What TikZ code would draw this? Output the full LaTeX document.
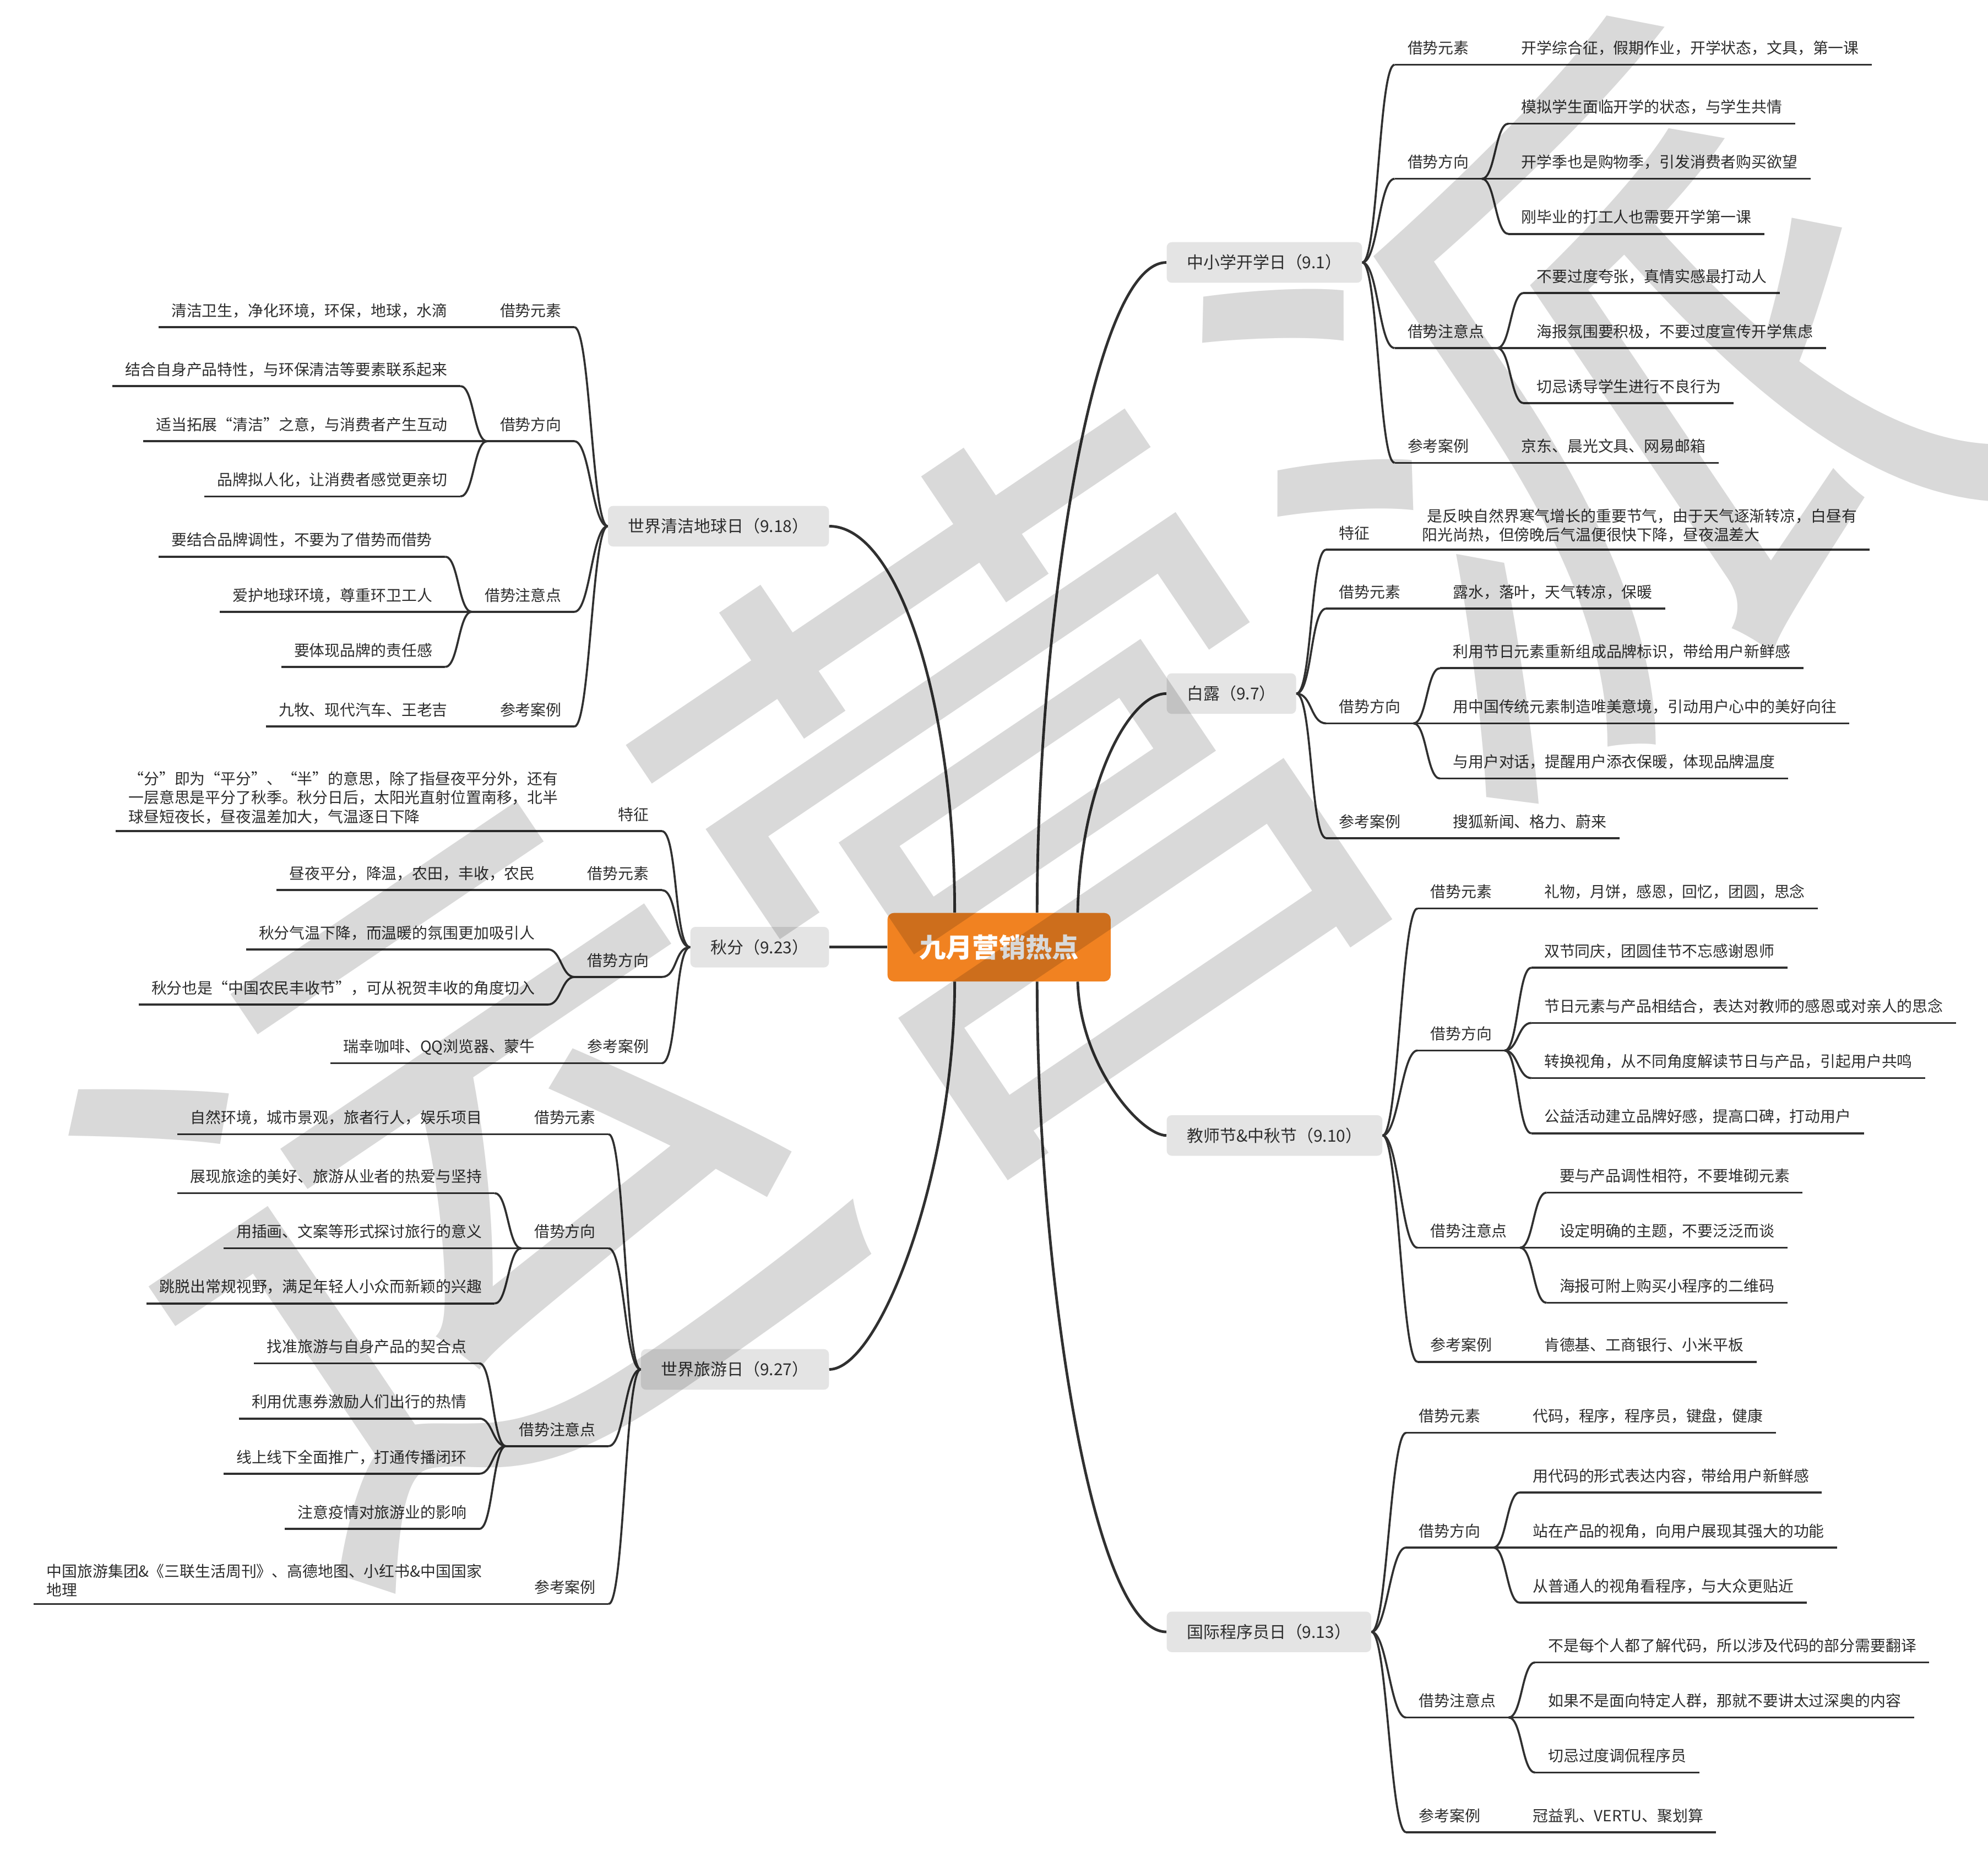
\documentclass[tikz,border=0pt]{standalone}
\usepackage{fontspec}
\setmainfont{Noto Sans CJK SC}
\definecolor{rootc}{RGB}{241,130,33}
\definecolor{topicc}{RGB}{228,228,228}
\definecolor{linec}{RGB}{48,48,48}
\definecolor{txtc}{RGB}{45,45,45}
\newcommand{\leaffont}{\fontsize{12.1pt}{15pt}\selectfont}

\begin{document}
\begin{tikzpicture}[x=1pt, y=-1pt,
    root/.style={rectangle, rounded corners=5pt, fill=rootc, text=white, minimum width=176pt,
                 minimum height=54pt, font=\fontsize{21pt}{24pt}\selectfont\bfseries},
    topic/.style={rectangle, rounded corners=4pt, fill=topicc, text=txtc, minimum height=32pt,
                  inner xsep=16pt, font=\fontsize{13pt}{15pt}\selectfont},
    uline/.style={draw=linec, line width=1.6pt},
    itembase/.style={text=txtc, inner xsep=10pt, inner ysep=6.9pt, font=\leaffont,
                     append after command={(\tikzlastnode.south west) edge[uline] (\tikzlastnode.south east)}},
    itemR/.style={itembase, text depth=0.15em, anchor=south west},
    itemL/.style={itembase, text depth=0.15em, anchor=south east},
    multiR/.style={itembase, inner ysep=5.5pt, align=left, anchor=south west},
    multiL/.style={itembase, inner ysep=5.5pt, align=left, anchor=south east},
    branch/.style={draw=linec, line width=2.1pt},
    twig/.style={draw=linec, line width=1.6pt},
    rlink/.style={to path={.. controls +(#1,0) and +(-#1,0) .. (\tikztotarget)}},
    rlink/.default=12.5,
    llink/.style={to path={.. controls +(-#1,0) and +(#1,0) .. (\tikztotarget)}},
    llink/.default=12.5,
    wmark/.style={rotate=34, inner sep=0pt, text=black, text opacity=0.15,
                  font=\fontsize{540pt}{540pt}\selectfont}
]
\useasboundingbox (0,0) rectangle (1568,1472.4);
\fill[white] (0,0) rectangle (1568,1472.4);

%% Topics, placed at explicit coordinates %%
\node[topic, anchor=west] (t1) at (920,207)  {中小学开学日（9.1）};
\node[topic, anchor=west] (t2) at (920,547)  {白露（9.7）};
\node[topic, anchor=west] (t3) at (920,895.5) {教师节\&中秋节（9.10）};
\node[topic, anchor=west] (t4) at (920,1287) {国际程序员日（9.13）};
\node[topic, anchor=east] (t5) at (654,415)  {世界清洁地球日（9.18）};
\node[topic, anchor=east] (t6) at (654,747)  {秋分（9.23）};
\node[topic, anchor=east] (t7) at (654,1080) {世界旅游日（9.27）};

%% Root and main branches %%
\node[root] (root) at (788,747) {九月营销热点};
\draw[branch] ([xshift=30pt]root.north)  .. controls +(0,-220) and +(-60,0) .. (t1.west);
\draw[branch] ([xshift=62pt]root.north)  .. controls +(2,-100) and +(-30,0) .. (t2.west);
\draw[branch] ([xshift=62pt]root.south)  .. controls +(2,67) and +(-20,0)   .. (t3.west);
\draw[branch] ([xshift=30pt]root.south)  .. controls +(0,220) and +(-60,0)  .. (t4.west);
\draw[branch] ([xshift=-35pt]root.north) .. controls +(0,-160) and +(56,0)  .. (t5.east);
\draw[branch] (root.west) -- (t6.east);
\draw[branch] ([xshift=-35pt]root.south) .. controls +(0,150) and +(40,0)   .. (t7.east);

%% 中小学开学日 %%
\node[itemR] (t1a) at (1100,51) {借势元素};
\node[itemR] (t1a1) at ([xshift=21pt]t1a.south east) {开学综合征，假期作业，开学状态，文具，第一课};
\node[itemR] (t1b) at (1100,141) {借势方向};
\node[itemR] (t1b1) at ([xshift=21pt,yshift=43.5pt]t1b.south east) {模拟学生面临开学的状态，与学生共情};
\node[itemR] (t1b2) at ([xshift=21pt]t1b.south east) {开学季也是购物季，引发消费者购买欲望};
\node[itemR] (t1b3) at ([xshift=21pt,yshift=-43.5pt]t1b.south east) {刚毕业的打工人也需要开学第一课};
\node[itemR] (t1c) at (1100,274.5) {借势注意点};
\node[itemR] (t1c1) at ([xshift=21pt,yshift=43.5pt]t1c.south east) {不要过度夸张，真情实感最打动人};
\node[itemR] (t1c2) at ([xshift=21pt]t1c.south east) {海报氛围要积极，不要过度宣传开学焦虑};
\node[itemR] (t1c3) at ([xshift=21pt,yshift=-43.5pt]t1c.south east) {切忌诱导学生进行不良行为};
\node[itemR] (t1d) at (1100,365) {参考案例};
\node[itemR] (t1d1) at ([xshift=21pt]t1d.south east) {京东、晨光文具、网易邮箱};

\draw[twig] (t1.east) to[rlink] (t1a.south west);
\draw[twig] (t1.east) to[rlink] (t1b.south west);
\draw[twig] (t1.east) to[rlink] (t1c.south west);
\draw[twig] (t1.east) to[rlink] (t1d.south west);
\draw[twig] (t1a.south east) -- (t1a1.south west);
\draw[twig] (t1b.south east) to[rlink=10.5] (t1b1.south west);
\draw[twig] (t1b.south east) -- (t1b2.south west);
\draw[twig] (t1b.south east) to[rlink=10.5] (t1b3.south west);
\draw[twig] (t1c.south east) to[rlink=10.5] (t1c1.south west);
\draw[twig] (t1c.south east) -- (t1c2.south west);
\draw[twig] (t1c.south east) to[rlink=10.5] (t1c3.south west);
\draw[twig] (t1d.south east) -- (t1d1.south west);

%% 白露 %%
\node[itemR] (t2a) at (1046,433.5) {特征};
\node[multiR] (t2a1) at ([xshift=21pt]t2a.south east)
    {\hspace{4pt}是反映自然界寒气增长的重要节气，由于天气逐渐转凉，白昼有\\阳光尚热，但傍晚后气温便很快下降，昼夜温差大};
\node[itemR] (t2b) at (1046,480) {借势元素};
\node[itemR] (t2b1) at ([xshift=21pt]t2b.south east) {露水，落叶，天气转凉，保暖};
\node[itemR] (t2c) at (1046,570.5) {借势方向};
\node[itemR] (t2c1) at ([xshift=21pt,yshift=43.5pt]t2c.south east) {利用节日元素重新组成品牌标识，带给用户新鲜感};
\node[itemR] (t2c2) at ([xshift=21pt]t2c.south east) {用中国传统元素制造唯美意境，引动用户心中的美好向往};
\node[itemR] (t2c3) at ([xshift=21pt,yshift=-43.5pt]t2c.south east) {与用户对话，提醒用户添衣保暖，体现品牌温度};
\node[itemR] (t2d) at (1046,661) {参考案例};
\node[itemR] (t2d1) at ([xshift=21pt]t2d.south east) {搜狐新闻、格力、蔚来};

\draw[twig] (t2.east) to[rlink] (t2a.south west);
\draw[twig] (t2.east) to[rlink] (t2b.south west);
\draw[twig] (t2.east) to[rlink] (t2c.south west);
\draw[twig] (t2.east) to[rlink] (t2d.south west);
\draw[twig] (t2a.south east) -- (t2a1.south west);
\draw[twig] (t2b.south east) -- (t2b1.south west);
\draw[twig] (t2c.south east) to[rlink=10.5] (t2c1.south west);
\draw[twig] (t2c.south east) -- (t2c2.south west);
\draw[twig] (t2c.south east) to[rlink=10.5] (t2c3.south west);
\draw[twig] (t2d.south east) -- (t2d1.south west);

%% 教师节&中秋节 %%
\node[itemR] (t3a) at (1118,716.5) {借势元素};
\node[itemR] (t3a1) at ([xshift=21pt]t3a.south east) {礼物，月饼，感恩，回忆，团圆，思念};
\node[itemR] (t3b) at (1118,828.5) {借势方向};
\node[itemR] (t3b1) at ([xshift=21pt,yshift=65.25pt]t3b.south east) {双节同庆，团圆佳节不忘感谢恩师};
\node[itemR] (t3b2) at ([xshift=21pt,yshift=21.75pt]t3b.south east) {节日元素与产品相结合，表达对教师的感恩或对亲人的思念};
\node[itemR] (t3b3) at ([xshift=21pt,yshift=-21.75pt]t3b.south east) {转换视角，从不同角度解读节日与产品，引起用户共鸣};
\node[itemR] (t3b4) at ([xshift=21pt,yshift=-65.25pt]t3b.south east) {公益活动建立品牌好感，提高口碑，打动用户};
\node[itemR] (t3c) at (1118,984) {借势注意点};
\node[itemR] (t3c1) at ([xshift=21pt,yshift=43.5pt]t3c.south east) {要与产品调性相符，不要堆砌元素};
\node[itemR] (t3c2) at ([xshift=21pt]t3c.south east) {设定明确的主题，不要泛泛而谈};
\node[itemR] (t3c3) at ([xshift=21pt,yshift=-43.5pt]t3c.south east) {海报可附上购买小程序的二维码};
\node[itemR] (t3d) at (1118,1074) {参考案例};
\node[itemR] (t3d1) at ([xshift=21pt]t3d.south east) {肯德基、工商银行、小米平板};

\draw[twig] (t3.east) to[rlink] (t3a.south west);
\draw[twig] (t3.east) to[rlink] (t3b.south west);
\draw[twig] (t3.east) to[rlink] (t3c.south west);
\draw[twig] (t3.east) to[rlink] (t3d.south west);
\draw[twig] (t3a.south east) -- (t3a1.south west);
\draw[twig] (t3b.south east) to[rlink=10.5] (t3b1.south west);
\draw[twig] (t3b.south east) to[rlink=10.5] (t3b2.south west);
\draw[twig] (t3b.south east) to[rlink=10.5] (t3b3.south west);
\draw[twig] (t3b.south east) to[rlink=10.5] (t3b4.south west);
\draw[twig] (t3c.south east) to[rlink=10.5] (t3c1.south west);
\draw[twig] (t3c.south east) -- (t3c2.south west);
\draw[twig] (t3c.south east) to[rlink=10.5] (t3c3.south west);
\draw[twig] (t3d.south east) -- (t3d1.south west);

%% 国际程序员日 %%
\node[itemR] (t4a) at (1109,1130) {借势元素};
\node[itemR] (t4a1) at ([xshift=21pt]t4a.south east) {代码，程序，程序员，键盘，健康};
\node[itemR] (t4b) at (1109,1220.5) {借势方向};
\node[itemR] (t4b1) at ([xshift=21pt,yshift=43.5pt]t4b.south east) {用代码的形式表达内容，带给用户新鲜感};
\node[itemR] (t4b2) at ([xshift=21pt]t4b.south east) {站在产品的视角，向用户展现其强大的功能};
\node[itemR] (t4b3) at ([xshift=21pt,yshift=-43.5pt]t4b.south east) {从普通人的视角看程序，与大众更贴近};
\node[itemR] (t4c) at (1109,1354.5) {借势注意点};
\node[itemR] (t4c1) at ([xshift=21pt,yshift=43.5pt]t4c.south east) {不是每个人都了解代码，所以涉及代码的部分需要翻译};
\node[itemR] (t4c2) at ([xshift=21pt]t4c.south east) {如果不是面向特定人群，那就不要讲太过深奥的内容};
\node[itemR] (t4c3) at ([xshift=21pt,yshift=-43.5pt]t4c.south east) {切忌过度调侃程序员};
\node[itemR] (t4d) at (1109,1445) {参考案例};
\node[itemR] (t4d1) at ([xshift=21pt]t4d.south east) {冠益乳、VERTU、聚划算};

\draw[twig] (t4.east) to[rlink] (t4a.south west);
\draw[twig] (t4.east) to[rlink] (t4b.south west);
\draw[twig] (t4.east) to[rlink] (t4c.south west);
\draw[twig] (t4.east) to[rlink] (t4d.south west);
\draw[twig] (t4a.south east) -- (t4a1.south west);
\draw[twig] (t4b.south east) to[rlink=10.5] (t4b1.south west);
\draw[twig] (t4b.south east) -- (t4b2.south west);
\draw[twig] (t4b.south east) to[rlink=10.5] (t4b3.south west);
\draw[twig] (t4c.south east) to[rlink=10.5] (t4c1.south west);
\draw[twig] (t4c.south east) -- (t4c2.south west);
\draw[twig] (t4c.south east) to[rlink=10.5] (t4c3.south west);
\draw[twig] (t4d.south east) -- (t4d1.south west);

%% 世界清洁地球日 %%
\node[itemL] (t5a) at (453,258) {借势元素};
\node[itemL] (t5a1) at ([xshift=-21pt]t5a.south west) {清洁卫生，净化环境，环保，地球，水滴};
\node[itemL] (t5b) at (453,348) {借势方向};
\node[itemL] (t5b1) at ([xshift=-21pt,yshift=43.5pt]t5b.south west) {结合自身产品特性，与环保清洁等要素联系起来};
\node[itemL] (t5b2) at ([xshift=-21pt]t5b.south west) {适当拓展“清洁”之意，与消费者产生互动};
\node[itemL] (t5b3) at ([xshift=-21pt,yshift=-43.5pt]t5b.south west) {品牌拟人化，让消费者感觉更亲切};
\node[itemL] (t5c) at (453,482.5) {借势注意点};
\node[itemL] (t5c1) at ([xshift=-21pt,yshift=43.5pt]t5c.south west) {要结合品牌调性，不要为了借势而借势};
\node[itemL] (t5c2) at ([xshift=-21pt]t5c.south west) {爱护地球环境，尊重环卫工人};
\node[itemL] (t5c3) at ([xshift=-21pt,yshift=-43.5pt]t5c.south west) {要体现品牌的责任感};
\node[itemL] (t5d) at (453,573) {参考案例};
\node[itemL] (t5d1) at ([xshift=-21pt]t5d.south west) {九牧、现代汽车、王老吉};

\draw[twig] (t5.west) to[llink] (t5a.south east);
\draw[twig] (t5.west) to[llink] (t5b.south east);
\draw[twig] (t5.west) to[llink] (t5c.south east);
\draw[twig] (t5.west) to[llink] (t5d.south east);
\draw[twig] (t5a.south west) -- (t5a1.south east);
\draw[twig] (t5b.south west) to[llink=10.5] (t5b1.south east);
\draw[twig] (t5b.south west) -- (t5b2.south east);
\draw[twig] (t5b.south west) to[llink=10.5] (t5b3.south east);
\draw[twig] (t5c.south west) to[llink=10.5] (t5c1.south east);
\draw[twig] (t5c.south west) -- (t5c2.south east);
\draw[twig] (t5c.south west) to[llink=10.5] (t5c3.south east);
\draw[twig] (t5d.south west) -- (t5d1.south east);

%% 秋分 %%
\node[itemL] (t6a) at (522,655.5) {特征};
\node[multiL] (t6a1) at ([xshift=-27pt]t6a.south west)
    {“分”即为“平分”、“半”的意思，除了指昼夜平分外，还有\\一层意思是平分了秋季。秋分日后，太阳光直射位置南移，北半\\球昼短夜长，昼夜温差加大，气温逐日下降};
\node[itemL] (t6b) at (522,702) {借势元素};
\node[itemL] (t6b1) at ([xshift=-21pt]t6b.south west) {昼夜平分，降温，农田，丰收，农民};
\node[itemL] (t6c) at (522,770.5) {借势方向};
\node[itemL] (t6c1) at ([xshift=-21pt,yshift=21.75pt]t6c.south west) {秋分气温下降，而温暖的氛围更加吸引人};
\node[itemL] (t6c2) at ([xshift=-21pt,yshift=-21.75pt]t6c.south west) {秋分也是“中国农民丰收节”，可从祝贺丰收的角度切入};
\node[itemL] (t6d) at (522,838.5) {参考案例};
\node[itemL] (t6d1) at ([xshift=-21pt]t6d.south west) {瑞幸咖啡、QQ浏览器、蒙牛};

\draw[twig] (t6.west) to[llink] (t6a.south east);
\draw[twig] (t6.west) to[llink] (t6b.south east);
\draw[twig] (t6.west) to[llink] (t6c.south east);
\draw[twig] (t6.west) to[llink] (t6d.south east);
\draw[twig] (t6a.south west) -- (t6a1.south east);
\draw[twig] (t6b.south west) -- (t6b1.south east);
\draw[twig] (t6c.south west) to[llink=10.5] (t6c1.south east);
\draw[twig] (t6c.south west) to[llink=10.5] (t6c2.south east);
\draw[twig] (t6d.south west) -- (t6d1.south east);

%% 世界旅游日 %%
\node[itemL] (t7a) at (480,894.5) {借势元素};
\node[itemL] (t7a1) at ([xshift=-21pt]t7a.south west) {自然环境，城市景观，旅者行人，娱乐项目};
\node[itemL] (t7b) at (480,984.5) {借势方向};
\node[itemL] (t7b1) at ([xshift=-21pt,yshift=43.5pt]t7b.south west) {展现旅途的美好、旅游从业者的热爱与坚持};
\node[itemL] (t7b2) at ([xshift=-21pt]t7b.south west) {用插画、文案等形式探讨旅行的意义};
\node[itemL] (t7b3) at ([xshift=-21pt,yshift=-43.5pt]t7b.south west) {跳脱出常规视野，满足年轻人小众而新颖的兴趣};
\node[itemL] (t7c) at (480,1140.5) {借势注意点};
\node[itemL] (t7c1) at ([xshift=-21pt,yshift=65.25pt]t7c.south west) {找准旅游与自身产品的契合点};
\node[itemL] (t7c2) at ([xshift=-21pt,yshift=21.75pt]t7c.south west) {利用优惠券激励人们出行的热情};
\node[itemL] (t7c3) at ([xshift=-21pt,yshift=-21.75pt]t7c.south west) {线上线下全面推广，打通传播闭环};
\node[itemL] (t7c4) at ([xshift=-21pt,yshift=-65.25pt]t7c.south west) {注意疫情对旅游业的影响};
\node[itemL] (t7d) at (480,1265) {参考案例};
\node[multiL] (t7d1) at ([xshift=-21pt]t7d.south west)
    {中国旅游集团\&《三联生活周刊》、高德地图、小红书\&中国国家\\地理};

\draw[twig] (t7.west) to[llink] (t7a.south east);
\draw[twig] (t7.west) to[llink] (t7b.south east);
\draw[twig] (t7.west) to[llink] (t7c.south east);
\draw[twig] (t7.west) to[llink] (t7d.south east);
\draw[twig] (t7a.south west) -- (t7a1.south east);
\draw[twig] (t7b.south west) to[llink=10.5] (t7b1.south east);
\draw[twig] (t7b.south west) -- (t7b2.south east);
\draw[twig] (t7b.south west) to[llink=10.5] (t7b3.south east);
\draw[twig] (t7c.south west) to[llink=10.5] (t7c1.south east);
\draw[twig] (t7c.south west) to[llink=10.5] (t7c2.south east);
\draw[twig] (t7c.south west) to[llink=10.5] (t7c3.south east);
\draw[twig] (t7c.south west) to[llink=10.5] (t7c4.south east);
\draw[twig] (t7d.south west) -- (t7d1.south east);

%% Watermark over everything %%
\node[wmark] (wm) at (804,625) {运营派};

\end{tikzpicture}
\end{document}
